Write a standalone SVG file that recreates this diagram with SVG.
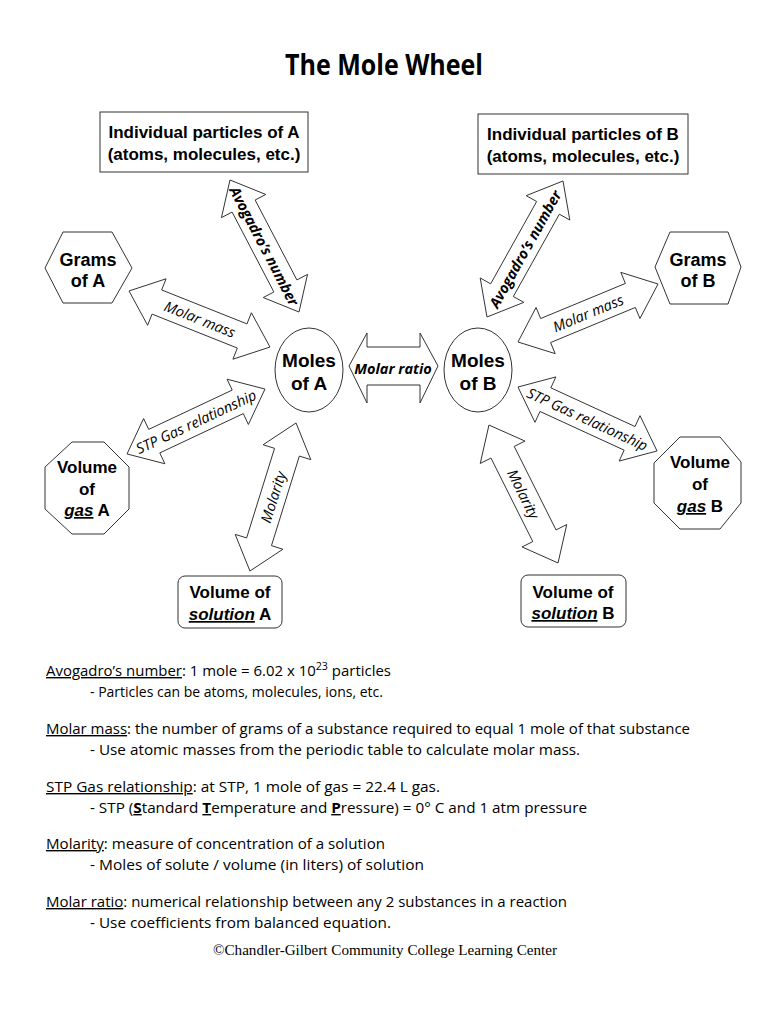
<svg xmlns="http://www.w3.org/2000/svg" xmlns:xlink="http://www.w3.org/1999/xlink" width="770" height="1024" viewBox="0 0 770 1024">
<style>
.shape{fill:#fff;stroke:#333;stroke-width:1}
.node{font-family:"Liberation Sans",Arial,sans-serif;font-weight:bold;fill:#000;text-anchor:middle}
.lbl{font-family:"Open Sans","DejaVu Sans",sans-serif;font-style:italic;font-size:14.5px;fill:#000;text-anchor:middle;dominant-baseline:central}
.b{font-weight:bold}
.note{font-family:"Open Sans","DejaVu Sans",sans-serif;font-size:14px;fill:#000}
.u{text-decoration:underline}
.arrow{fill:#fff;stroke:#333;stroke-width:1;vector-effect:non-scaling-stroke}
</style>
<defs>
<path id="arr" class="arrow" d="M-76,0 L-46,-25 L-46,-13 L46,-13 L46,-25 L76,0 L46,25 L46,13 L-46,13 L-46,25 Z"/>
</defs>
<rect width="770" height="1024" fill="#fff"/>
<text x="384" y="75" font-family="Open Sans, DejaVu Sans, sans-serif" font-weight="bold" font-size="28" textLength="198" lengthAdjust="spacingAndGlyphs" text-anchor="middle" fill="#000">The Mole Wheel</text>

<g id="connectors">
<use xlink:href="#arr" transform="translate(264.5,246) rotate(62.4) scale(0.98,1)"/>
<use xlink:href="#arr" transform="translate(199.5,319) rotate(21.7) scale(0.998,1)"/>
<use xlink:href="#arr" transform="translate(196,421.5) rotate(-25.2) scale(1.003,1)"/>
<use xlink:href="#arr" transform="translate(273,497) rotate(-72.7) scale(1.02,1)"/>
<use xlink:href="#arr" transform="translate(525,249) rotate(-60.8) scale(1.025,1)"/>
<use xlink:href="#arr" transform="translate(588,313) rotate(-22.5) scale(0.997,1)"/>
<use xlink:href="#arr" transform="translate(587.5,419) rotate(24.7) scale(1.007,1)"/>
<use xlink:href="#arr" transform="translate(523.5,494) rotate(63.4) scale(1.015,1)"/>
<path class="arrow" d="M349,366 L367,333 L367,347 L420,347 L420,333 L438,366 L420,403 L420,385 L367,385 L367,403 Z"/>
<text class="lbl b" font-size="14" transform="translate(264.5,246) rotate(62.4)">Avogadro’s number</text>
<text class="lbl" transform="translate(200,319) rotate(21.7)">Molar mass</text>
<text class="lbl" transform="translate(196,421.5) rotate(-25.2)">STP Gas relationship</text>
<text class="lbl" transform="translate(273,497) rotate(-72.7)">Molarity</text>
<text class="lbl b" font-size="14" transform="translate(525,249) rotate(-60.8)">Avogadro’s number</text>
<text class="lbl" transform="translate(588,313) rotate(-22.5)">Molar mass</text>
<text class="lbl" transform="translate(587.5,419) rotate(24.7)">STP Gas relationship</text>
<text class="lbl" transform="translate(523.5,494) rotate(63.4)">Molarity</text>
<text class="lbl b" font-size="12.5" x="393" y="368">Molar ratio</text>
</g>

<g id="particlesA">
<rect class="shape" x="100" y="112" width="208" height="60"/>
<text class="node" font-size="17" x="204" y="138">Individual particles of A</text>
<text class="node" font-size="17" x="204" y="160">(atoms, molecules, etc.)</text>
</g>
<g id="particlesB">
<rect class="shape" x="478" y="114" width="210" height="60"/>
<text class="node" font-size="17" x="583" y="140">Individual particles of B</text>
<text class="node" font-size="17" x="583" y="162">(atoms, molecules, etc.)</text>
</g>
<g id="gramsA">
<polygon class="shape" points="45,268 63,232 112,232 132,268 112,303 63,303"/>
<text class="node" font-size="18" x="88" y="266">Grams</text>
<text class="node" font-size="18" x="88" y="287">of A</text>
</g>
<g id="gramsB">
<polygon class="shape" points="655,267 670,232 728,232 741,267 728,304 670,304"/>
<text class="node" font-size="18" x="698" y="266">Grams</text>
<text class="node" font-size="18" x="698" y="287">of B</text>
</g>
<g id="molesA">
<ellipse class="shape" cx="309" cy="370" rx="34" ry="42"/>
<text class="node" font-size="19" x="309" y="367">Moles</text>
<text class="node" font-size="19" x="309" y="390">of A</text>
</g>
<g id="molesB">
<ellipse class="shape" cx="478" cy="370" rx="34" ry="42"/>
<text class="node" font-size="19" x="478" y="367">Moles</text>
<text class="node" font-size="19" x="478" y="390">of B</text>
</g>
<g id="gasA">
<polygon class="shape" points="72,442 104,442 129,467 129,509 104,534 72,534 45,509 45,467"/>
<text class="node" font-size="17" x="87" y="473">Volume</text>
<text class="node" font-size="17" x="87" y="495">of</text>
<text class="node" font-size="17" x="87" y="516"><tspan font-style="italic" class="u">gas</tspan> A</text>
</g>
<g id="gasB">
<polygon class="shape" points="680,437 720,437 741,462 741,503 720,529 680,529 654,503 654,463"/>
<text class="node" font-size="17" x="700" y="468">Volume</text>
<text class="node" font-size="17" x="700" y="490">of</text>
<text class="node" font-size="17" x="700" y="512"><tspan font-style="italic" class="u">gas</tspan> B</text>
</g>
<g id="solutionA">
<rect class="shape" x="178" y="576" width="104" height="52" rx="7"/>
<text class="node" font-size="17" x="230" y="598">Volume of</text>
<text class="node" font-size="17" x="230" y="620"><tspan font-style="italic" class="u">solution</tspan> A</text>
</g>
<g id="solutionB">
<rect class="shape" x="521" y="575" width="105" height="52" rx="7"/>
<text class="node" font-size="17" x="573" y="598">Volume of</text>
<text class="node" font-size="17" x="573" y="619"><tspan font-style="italic" class="u">solution</tspan> B</text>
</g>

<g id="notes">
<text class="note" x="46" y="676" textLength="345" lengthAdjust="spacingAndGlyphs"><tspan class="u">Avogadro’s number</tspan>: 1 mole = 6.02 x 10<tspan font-size="10" dy="-6">23</tspan><tspan dy="6"> particles</tspan></text>
<text class="note" x="90" y="697" textLength="293" lengthAdjust="spacingAndGlyphs">- Particles can be atoms, molecules, ions, etc.</text>
<text class="note" x="46" y="734" textLength="644" lengthAdjust="spacingAndGlyphs"><tspan class="u">Molar mass</tspan>: the number of grams of a substance required to equal 1 mole of that substance</text>
<text class="note" x="90" y="755" textLength="490" lengthAdjust="spacingAndGlyphs">- Use atomic masses from the periodic table to calculate molar mass.</text>
<text class="note" x="46" y="792" textLength="394" lengthAdjust="spacingAndGlyphs"><tspan class="u">STP Gas relationship</tspan>: at STP, 1 mole of gas = 22.4 L gas.</text>
<text class="note" x="90" y="813" textLength="497" lengthAdjust="spacingAndGlyphs">- STP (<tspan class="u" font-weight="bold">S</tspan>tandard <tspan class="u" font-weight="bold">T</tspan>emperature and <tspan class="u" font-weight="bold">P</tspan>ressure) = 0° C and 1 atm pressure</text>
<text class="note" x="46" y="849" textLength="339" lengthAdjust="spacingAndGlyphs"><tspan class="u">Molarity</tspan>: measure of concentration of a solution</text>
<text class="note" x="90" y="870" textLength="334" lengthAdjust="spacingAndGlyphs">- Moles of solute / volume (in liters) of solution</text>
<text class="note" x="46" y="907" textLength="521" lengthAdjust="spacingAndGlyphs"><tspan class="u">Molar ratio</tspan>: numerical relationship between any 2 substances in a reaction</text>
<text class="note" x="90" y="928" textLength="301" lengthAdjust="spacingAndGlyphs">- Use coefficients from balanced equation.</text>
<text x="385" y="955" font-family="Liberation Serif, Times New Roman, serif" font-size="14.5" text-anchor="middle" fill="#000" textLength="344" lengthAdjust="spacingAndGlyphs">©Chandler-Gilbert Community College Learning Center</text>
</g>
</svg>
